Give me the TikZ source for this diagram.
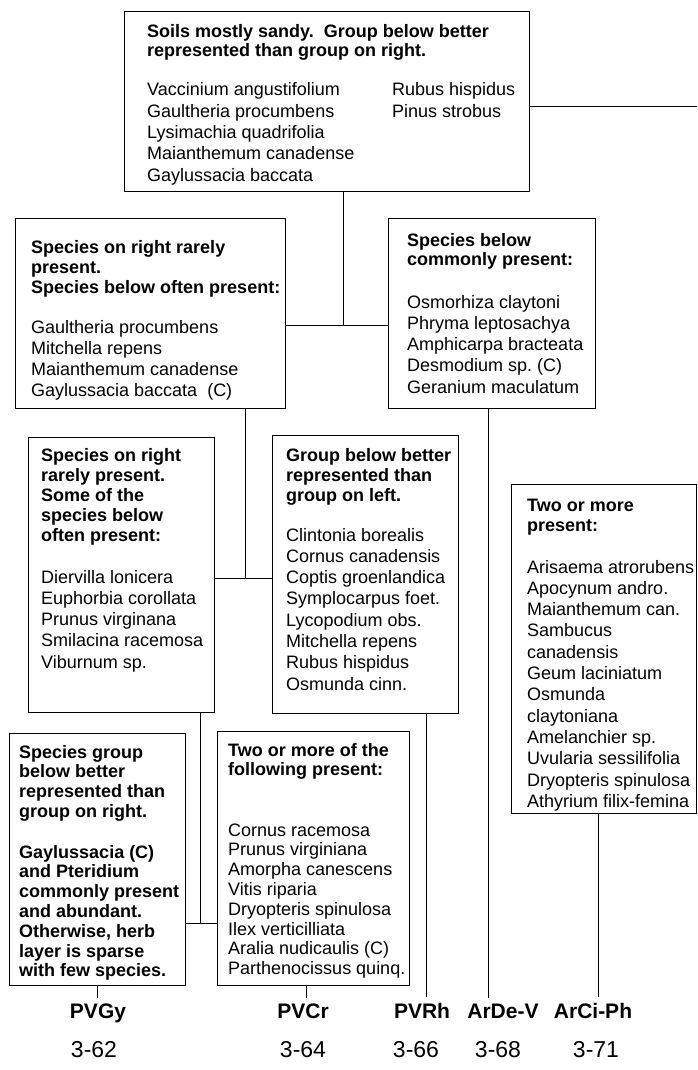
\documentclass[tikz,border=0pt]{standalone}
\usepackage{fontspec}
\setmainfont{Liberation Sans}
\usetikzlibrary{calc}
\frenchspacing

\begin{document}
\begin{tikzpicture}[x=1pt,y=-1pt,
  box/.style={draw, line width=1.2pt, inner sep=0pt, anchor=north west},
  link/.style={line width=1pt},
  body/.style={anchor=base west, inner sep=0pt, font=\fontsize{18}{21.3}\selectfont},
  lowbody/.style={anchor=base west, inner sep=0pt, font=\fontsize{18}{19.8}\selectfont},
  unitlabel/.style={anchor=base, inner sep=0pt, font=\fontsize{21}{24}\selectfont\bfseries},
  pagelabel/.style={anchor=base, inner sep=0pt, font=\fontsize{23}{26}\selectfont}]

\useasboundingbox (0,0) rectangle (697,1070);
\fill[white] (0,0) rectangle (697,1070);

% ---- boxes ----
\node[box, minimum width=405pt, minimum height=180pt] (T)  at (124,11)  {};
\node[box, minimum width=270pt, minimum height=190pt] (L1) at (15,218)  {};
\node[box, minimum width=207pt, minimum height=190pt] (R1) at (388,218) {};
\node[box, minimum width=186pt, minimum height=275pt] (L2) at (28,437)  {};
\node[box, minimum width=186pt, minimum height=278pt] (C2) at (272,435) {};
\node[box, minimum width=185pt, minimum height=329pt] (R2) at (511,484) {};
\node[box, minimum width=176pt, minimum height=252pt] (BL) at (9,733)   {};
\node[box, minimum width=192pt, minimum height=254pt] (BC) at (217,731) {};

% ---- box texts ----
\node[body] (Ttext) at (147,38) {\parbox[t]{400pt}{%
  \textbf{Soils mostly sandy.~~Group below better}\\[-2.3pt]
  \textbf{represented than group on right.}\\[17.7pt]
  Vaccinium angustifolium\\
  Gaultheria procumbens\\
  Lysimachia quadrifolia\\
  Maianthemum canadense\\
  Gaylussacia baccata}};
\node[body] (Tcol) at (392,96) {\parbox[t]{150pt}{%
  Rubus hispidus\\
  Pinus strobus}};

\node[body] (L1text) at (31,253) {\parbox[t]{260pt}{%
  \textbf{Species on right rarely}\\[-1.3pt]
  \textbf{present.}\\[-1.3pt]
  \textbf{Species below often present:}\\[18.7pt]
  Gaultheria procumbens\\
  Mitchella repens\\
  Maianthemum canadense\\
  Gaylussacia baccata~~(C)}};

\node[body] (R1text) at (407,246) {\parbox[t]{200pt}{%
  \textbf{Species below}\\[-2.3pt]
  \textbf{commonly present:}\\[21.7pt]
  Osmorhiza claytoni\\
  Phryma leptosachya\\
  Amphicarpa bracteata\\
  Desmodium sp. (C)\\
  Geranium maculatum}};

\node[body] (L2text) at (41,461) {\parbox[t]{200pt}{%
  \textbf{Species on right}\\[-1.3pt]
  \textbf{rarely present.}\\[-1.3pt]
  \textbf{Some of the}\\[-1.3pt]
  \textbf{species below}\\[-1.3pt]
  \textbf{often present:}\\[20.7pt]
  Diervilla lonicera\\
  Euphorbia corollata\\
  Prunus virginana\\
  Smilacina racemosa\\
  Viburnum sp.}};

\node[body] (C2text) at (286,461) {\parbox[t]{200pt}{%
  \textbf{Group below better}\\[-1.3pt]
  \textbf{represented than}\\[-1.3pt]
  \textbf{group on left.}\\[18.7pt]
  Clintonia borealis\\
  Cornus canadensis\\
  Coptis groenlandica\\
  Symplocarpus foet.\\
  Lycopodium obs.\\
  Mitchella repens\\
  Rubus hispidus\\
  Osmunda cinn.}};

\node[body] (R2text) at (527,511) {\parbox[t]{200pt}{%
  \textbf{Two or more}\\[-1.3pt]
  \textbf{present:}\\[20.7pt]
  Arisaema atrorubens\\
  Apocynum andro.\\
  Maianthemum can.\\
  Sambucus\\
  canadensis\\
  Geum laciniatum\\
  Osmunda\\
  claytoniana\\
  Amelanchier sp.\\
  Uvularia sessilifolia\\
  Dryopteris spinulosa\\
  Athyrium filix-femina}};

\node[lowbody] (BLtext) at (19,758) {\parbox[t]{200pt}{\bfseries
  Species group\\
  below better\\
  represented than\\
  group on right.\\[20.8pt]
  Gaylussacia (C)\\
  and Pteridium\\
  commonly present\\
  and abundant.\\
  Otherwise, herb\\
  layer is sparse\\
  with few species.}};

\node[lowbody] (BCtext) at (228,756) {\parbox[t]{200pt}{%
  \textbf{Two or more of the}\\
  \textbf{following present:}\\[40.4pt]
  Cornus racemosa\\
  Prunus virginiana\\
  Amorpha canescens\\
  Vitis riparia\\
  Dryopteris spinulosa\\
  Ilex verticilliata\\
  Aralia nudicaulis (C)\\
  Parthenocissus quinq.}};

% ---- community labels and page references ----
\node[unitlabel] (uPVGy)  at (98,1018)  {PVGy};
\node[unitlabel] (uPVCr)  at (303,1018) {PVCr};
\node[unitlabel] (uPVRh)  at (422,1018) {PVRh};
\node[unitlabel] (uArDe)  at (503,1018) {ArDe-V};
\node[unitlabel] (uArCi)  at (593,1018) {ArCi-Ph};

\node[pagelabel] (p62) at (94,1057)  {3-62};
\node[pagelabel] (p64) at (303,1057) {3-64};
\node[pagelabel] (p66) at (416,1057) {3-66};
\node[pagelabel] (p68) at (498,1057) {3-68};
\node[pagelabel] (p71) at (596,1057) {3-71};

% ---- junctions and line ends ----
\coordinate (Tout) at (697,107);
\coordinate (J1) at (343,325);
\coordinate (J2) at (245,578);
\coordinate (J3) at (200,923);
\coordinate (eBL) at (97,998);
\coordinate (eBC) at (306,998);
\coordinate (eC2) at (426,997);
\coordinate (eR1) at (488,998);
\coordinate (eR2) at (598,997);

% ---- connectors ----
\draw[link] (T.east |- Tout) -- (Tout);
\draw[link] (T.south -| J1) -- (J1);
\draw[link] (L1.east |- J1) -- (R1.west |- J1);
\draw[link] (L1.south -| J2) -- (J2);
\draw[link] (L2.east |- J2) -- (C2.west |- J2);
\draw[link] (L2.south -| J3) -- (J3);
\draw[link] (BL.east |- J3) -- (BC.west |- J3);
\draw[link] (BL.south -| eBL) -- (eBL);
\draw[link] (BC.south -| eBC) -- (eBC);
\draw[link] (C2.south -| eC2) -- (eC2);
\draw[link] (R1.south -| eR1) -- (eR1);
\draw[link] (R2.south -| eR2) -- (eR2);
\end{tikzpicture}
\end{document}
